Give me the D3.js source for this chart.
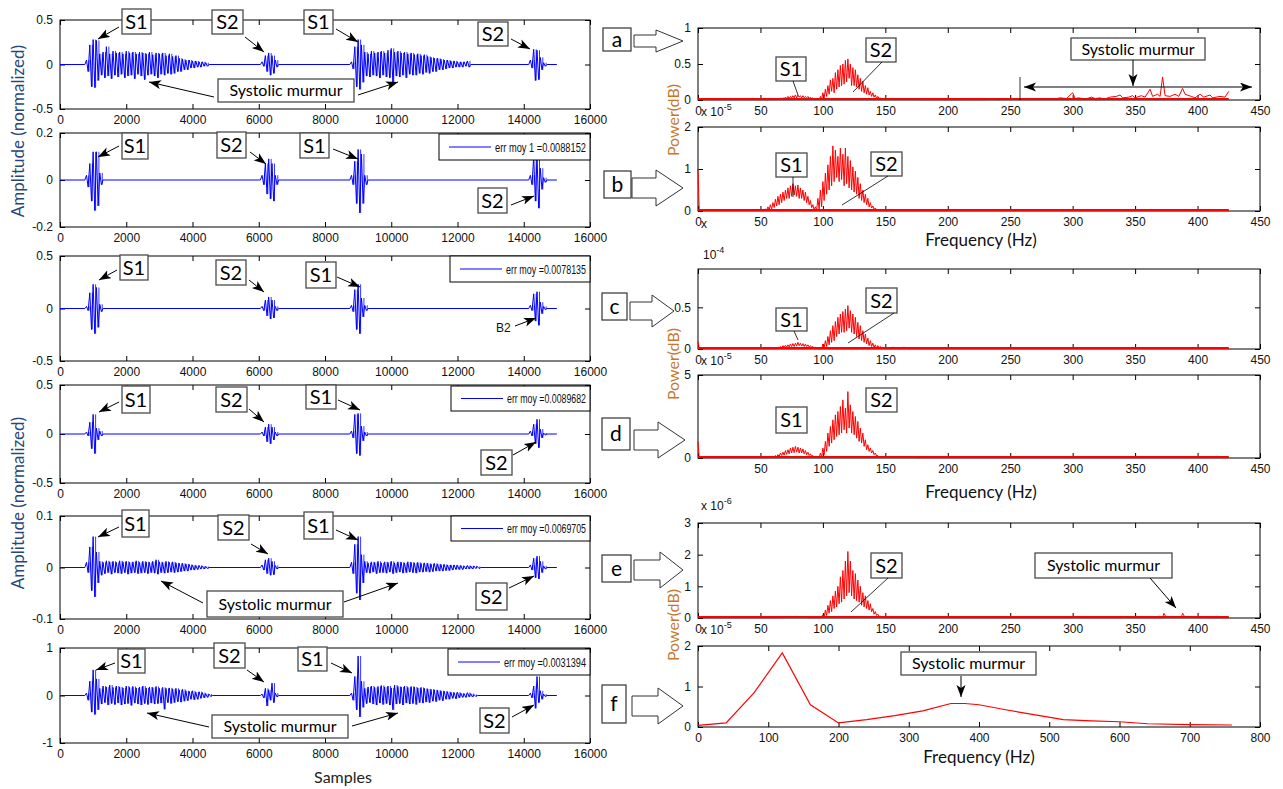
<!DOCTYPE html>
<html>
<head>
<meta charset="utf-8">
<script src="https://cdn.jsdelivr.net/npm/d3@7"></script>
<style>
  body { margin: 0; background: #fff; }
  svg text { font-family: "Liberation Sans", Arial, sans-serif; }
  .callout { font-family: Lato, "Open Sans", sans-serif; }
</style>
</head>
<body>
<svg id="fig" width="1283" height="789"></svg>
<script>
/* global d3 */

// ---------- data: time signals (envelope peaks, [upper, lower] every SIG_STEP samples) ----------
const SIG_STEP = 100;
const SIG_END = 15000;
const sampleTicks = [0, 2000, 4000, 6000, 8000, 10000, 12000, 14000, 16000];

const sigA = [
  [800, [[0.05,-0.08],[0.22,-0.25],[0.28,-0.26],[0.27,-0.18],[0.12,-0.12],[0.14,-0.15],[0.2,-0.13],[0.12,-0.16],[0.15,-0.12],[0.13,-0.14],[0.14,-0.11],[0.12,-0.15],[0.15,-0.13],[0.13,-0.12],[0.14,-0.16],[0.12,-0.11],[0.14,-0.13],[0.13,-0.17],[0.12,-0.12],[0.14,-0.11],[0.11,-0.13],[0.13,-0.15],[0.12,-0.11],[0.13,-0.12],[0.1,-0.1],[0.12,-0.11],[0.09,-0.1],[0.1,-0.08],[0.07,-0.08],[0.06,-0.06],[0.05,-0.06],[0.05,-0.04],[0.04,-0.04],[0.04,-0.03],[0.03,-0.03],[0.03,-0.02],[0.02,-0.02]]],
  [6100, [[0.03,-0.02],[0.1,-0.08],[0.13,-0.12],[0.1,-0.1],[0.05,-0.03]]],
  [8800, [[0.03,-0.05],[0.2,-0.25],[0.28,-0.28],[0.22,-0.2],[0.14,-0.13],[0.12,-0.14],[0.15,-0.12],[0.13,-0.13],[0.14,-0.15],[0.15,-0.12],[0.13,-0.14],[0.16,-0.15],[0.18,-0.2],[0.14,-0.13],[0.15,-0.14],[0.13,-0.12],[0.14,-0.15],[0.12,-0.11],[0.13,-0.12],[0.11,-0.12],[0.12,-0.1],[0.1,-0.11],[0.11,-0.09],[0.09,-0.1],[0.08,-0.08],[0.07,-0.08],[0.07,-0.06],[0.06,-0.06],[0.05,-0.05],[0.05,-0.04],[0.04,-0.04],[0.04,-0.03],[0.03,-0.03],[0.03,-0.03],[0.03,-0.02],[0.04,-0.03]]],
  [14200, [[0.05,-0.04],[0.17,-0.18],[0.16,-0.17],[0.08,-0.06],[0.02,-0.02]]],
];

const sigB = [
  [800, [[0.02,-0.03],[0.07,-0.09],[0.12,-0.13],[0.12,-0.11],[0.03,-0.02]]],
  [6100, [[0.02,-0.02],[0.07,-0.06],[0.09,-0.08],[0.07,-0.09],[0.02,-0.02]]],
  [8800, [[0.02,-0.02],[0.08,-0.1],[0.13,-0.14],[0.11,-0.1],[0.02,-0.02]]],
  [14200, [[0.02,-0.02],[0.1,-0.09],[0.1,-0.12],[0.05,-0.04],[0.01,-0.01]]],
];

const sigC = [
  [800, [[0.02,-0.02],[0.15,-0.2],[0.23,-0.24],[0.2,-0.18],[0.04,-0.03]]],
  [6100, [[0.02,-0.02],[0.08,-0.07],[0.11,-0.1],[0.08,-0.09],[0.02,-0.02]]],
  [8800, [[0.03,-0.03],[0.18,-0.2],[0.23,-0.24],[0.1,-0.08],[0.03,-0.02]]],
  [14200, [[0.03,-0.02],[0.14,-0.12],[0.16,-0.16],[0.06,-0.05],[0.02,-0.01]]],
];

const sigD = [
  [800, [[0.02,-0.02],[0.12,-0.15],[0.2,-0.2],[0.06,-0.06],[0.03,-0.02]]],
  [6100, [[0.02,-0.02],[0.07,-0.08],[0.1,-0.1],[0.07,-0.06],[0.02,-0.02]]],
  [8800, [[0.03,-0.04],[0.2,-0.2],[0.21,-0.22],[0.08,-0.07],[0.02,-0.02]]],
  [14200, [[0.03,-0.02],[0.1,-0.1],[0.15,-0.14],[0.05,-0.04],[0.01,-0.01]]],
];

const sigE = [
  [800, [[0.01,-0.01],[0.04,-0.045],[0.06,-0.057],[0.03,-0.03],[0.012,-0.015],[0.01,-0.012],[0.013,-0.01],[0.011,-0.013],[0.012,-0.01],[0.01,-0.011],[0.013,-0.012],[0.011,-0.01],[0.012,-0.013],[0.01,-0.011],[0.011,-0.01],[0.013,-0.012],[0.01,-0.011],[0.012,-0.01],[0.011,-0.012],[0.01,-0.01],[0.012,-0.011],[0.015,-0.013],[0.011,-0.01],[0.01,-0.011],[0.012,-0.01],[0.01,-0.009],[0.011,-0.01],[0.009,-0.009],[0.008,-0.008],[0.008,-0.007],[0.007,-0.007],[0.006,-0.005],[0.005,-0.005],[0.004,-0.004],[0.004,-0.003],[0.003,-0.003],[0.002,-0.002]]],
  [6100, [[0.005,-0.005],[0.015,-0.012],[0.018,-0.015],[0.012,-0.014],[0.004,-0.003]]],
  [8800, [[0.01,-0.012],[0.045,-0.05],[0.06,-0.063],[0.025,-0.03],[0.012,-0.01],[0.009,-0.011],[0.011,-0.009],[0.01,-0.012],[0.012,-0.01],[0.009,-0.01],[0.011,-0.011],[0.01,-0.009],[0.012,-0.012],[0.009,-0.01],[0.011,-0.009],[0.01,-0.011],[0.009,-0.01],[0.011,-0.009],[0.01,-0.01],[0.009,-0.011],[0.01,-0.009],[0.008,-0.009],[0.009,-0.008],[0.008,-0.009],[0.007,-0.008],[0.008,-0.007],[0.007,-0.007],[0.006,-0.007],[0.006,-0.006],[0.005,-0.006],[0.005,-0.005],[0.005,-0.004],[0.004,-0.004],[0.004,-0.004],[0.003,-0.003],[0.004,-0.003],[0.003,-0.003],[0.003,-0.002],[0.002,-0.002]]],
  [14200, [[0.005,-0.005],[0.018,-0.02],[0.022,-0.022],[0.012,-0.01],[0.003,-0.003]]],
];

const sigF = [
  [800, [[0.05,-0.1],[0.3,-0.35],[0.54,-0.4],[0.35,-0.3],[0.15,-0.18],[0.2,-0.15],[0.18,-0.2],[0.22,-0.17],[0.17,-0.19],[0.2,-0.16],[0.18,-0.2],[0.16,-0.18],[0.2,-0.17],[0.17,-0.21],[0.19,-0.16],[0.16,-0.18],[0.18,-0.2],[0.2,-0.17],[0.16,-0.19],[0.18,-0.16],[0.17,-0.18],[0.19,-0.17],[0.15,-0.16],[0.17,-0.29],[0.15,-0.15],[0.16,-0.17],[0.14,-0.15],[0.15,-0.13],[0.12,-0.14],[0.13,-0.12],[0.1,-0.11],[0.09,-0.08],[0.1,-0.09],[0.07,-0.08],[0.08,-0.06],[0.06,-0.05],[0.04,-0.04],[0.03,-0.02]]],
  [6100, [[0.03,-0.05],[0.15,-0.22],[0.12,-0.1],[0.26,-0.15],[0.05,-0.03]]],
  [8800, [[0.05,-0.1],[0.4,-0.3],[0.83,-0.45],[0.3,-0.25],[0.15,-0.17],[0.18,-0.15],[0.2,-0.18],[0.17,-0.2],[0.19,-0.16],[0.21,-0.19],[0.18,-0.17],[0.2,-0.2],[0.16,-0.3],[0.22,-0.18],[0.19,-0.17],[0.18,-0.2],[0.2,-0.16],[0.17,-0.18],[0.19,-0.17],[0.18,-0.19],[0.16,-0.15],[0.17,-0.16],[0.15,-0.14],[0.14,-0.15],[0.13,-0.12],[0.12,-0.13],[0.11,-0.1],[0.1,-0.11],[0.09,-0.08],[0.08,-0.08],[0.07,-0.06],[0.06,-0.07],[0.07,-0.05],[0.05,-0.04],[0.04,-0.04],[0.06,-0.03],[0.04,-0.03],[0.02,-0.02]]],
  [14200, [[0.05,-0.05],[0.2,-0.27],[0.4,-0.15],[0.1,-0.08],[0.03,-0.02]]],
];

const errMoy = [null, 'err moy 1 =0.0088152', 'err moy =0.0078135', 'err moy =0.0089682', 'err moy =0.0069705', 'err moy =0.0031394'];

// ---------- data: spectra (bumps are [hi, lo] every SPEC_STEP Hz, plus single points) ----------
const SPEC_STEP = 2;
const SPEC_END = 425;
const freqTicks = [0, 50, 100, 150, 200, 250, 300, 350, 400, 450];
const freqTicksF = [0, 100, 200, 300, 400, 500, 600, 700, 800];

const specA_pts = [[0,0.03],[2,0.005],[58,0.005],[150,0.02],[152,0.01],[160,0.015],[170,0.01],[180,0.005],[230,0.005],[235,0.01],[240,0.005],[248,0.01],[250,0.005],[255,0.02],[258,0.005],[270,0.01],[275,0.02],[280,0.005],[285,0.01],[290,0.03],[295,0.02],[300,0.1],[302,0.02],[305,0.03],[310,0.01],[315,0.04],[318,0.02],[322,0.03],[325,0.01],[330,0.04],[335,0.05],[338,0.07],[340,0.03],[345,0.04],[348,0.06],[350,0.03],[355,0.06],[358,0.04],[362,0.15],[364,0.05],[368,0.08],[370,0.05],[372,0.32],[374,0.06],[378,0.05],[382,0.08],[385,0.05],[388,0.16],[390,0.08],[395,0.05],[398,0.03],[402,0.08],[405,0.04],[410,0.07],[412,0.03],[418,0.05],[422,0.04],[425,0.12]];
const specA_bumps = [
  [60, [[0.01,0],[0.02,0.01],[0.02,0.01],[0.03,0.01],[0.03,0.02],[0.04,0.02],[0.05,0.02],[0.05,0.03],[0.06,0.03],[0.07,0.03],[0.07,0.04],[0.06,0.03],[0.06,0.03],[0.05,0.03],[0.05,0.02],[0.04,0.02],[0.03,0.01],[0.02,0.01],[0.02,0]]],
  [98, [[0.05,0.01],[0.1,0.03],[0.15,0.05],[0.2,0.08],[0.28,0.12],[0.3,0.1],[0.38,0.15],[0.42,0.18],[0.48,0.2],[0.5,0.22],[0.55,0.25],[0.57,0.3],[0.5,0.2],[0.45,0.2],[0.42,0.18],[0.35,0.15],[0.3,0.12],[0.26,0.1],[0.2,0.08],[0.17,0.07],[0.12,0.05],[0.1,0.04],[0.07,0.02],[0.05,0.02],[0.03,0.01],[0.02,0.01]]],
];

const specB_pts = [[0,1.0],[1,0.02],[52,0.01],[148,0.01],[425,0.01]];
const specB_bumps = [
  [54, [[0.05,0.01],[0.1,0.03],[0.15,0.05],[0.2,0.08],[0.28,0.12],[0.35,0.15],[0.4,0.2],[0.45,0.25],[0.5,0.3],[0.55,0.3],[0.6,0.35],[0.65,0.38],[0.6,0.35],[0.62,0.3],[0.55,0.3],[0.5,0.25],[0.45,0.2],[0.35,0.15],[0.25,0.08],[0.15,0.02]]],
  [94, [[0.1,0.02],[0.3,0.05],[0.5,0.1],[0.7,0.25],[0.9,0.4],[1.1,0.5],[1.3,0.6],[1.55,0.7],[1.45,0.8],[1.3,0.7],[1.5,0.75],[1.35,0.6],[1.5,0.65],[1.3,0.55],[1.2,0.5],[1.05,0.45],[0.95,0.4],[0.8,0.3],[0.65,0.25],[0.5,0.2],[0.4,0.15],[0.3,0.1],[0.2,0.07],[0.12,0.04],[0.07,0.02],[0.03,0.01]]],
];

const specC_pts = [[0,0.09],[1,0.005],[58,0.005],[152,0.015],[156,0.02],[160,0.015],[165,0.02],[170,0.01],[172,0.005],[425,0.005]];
const specC_bumps = [
  [60, [[0.01,0],[0.02,0.01],[0.025,0.01],[0.03,0.015],[0.04,0.02],[0.045,0.02],[0.05,0.025],[0.06,0.03],[0.065,0.03],[0.07,0.035],[0.08,0.04],[0.07,0.035],[0.065,0.03],[0.06,0.03],[0.05,0.025],[0.04,0.02],[0.03,0.01],[0.02,0.01],[0.01,0]]],
  [98, [[0.02,0],[0.06,0.01],[0.1,0.03],[0.15,0.05],[0.22,0.08],[0.28,0.1],[0.33,0.15],[0.38,0.18],[0.42,0.2],[0.45,0.2],[0.48,0.22],[0.52,0.25],[0.46,0.2],[0.42,0.18],[0.38,0.15],[0.32,0.12],[0.28,0.1],[0.22,0.08],[0.18,0.06],[0.13,0.04],[0.1,0.03],[0.07,0.02],[0.05,0.01],[0.04,0.01],[0.03,0.01],[0.02,0.005],[0.02,0.005]]],
];

const specD_pts = [[0,1.0],[1,0.02],[56,0.02],[152,0.05],[160,0.08],[165,0.05],[170,0.06],[175,0.02],[425,0.02]];
const specD_bumps = [
  [58, [[0.05,0.02],[0.1,0.04],[0.15,0.06],[0.2,0.1],[0.3,0.15],[0.35,0.18],[0.45,0.22],[0.5,0.25],[0.6,0.3],[0.65,0.32],[0.7,0.35],[0.65,0.3],[0.6,0.3],[0.55,0.25],[0.45,0.2],[0.35,0.15],[0.25,0.1],[0.15,0.05],[0.1,0.03],[0.05,0.01]]],
  [98, [[0.3,0.05],[0.6,0.2],[1.0,0.4],[1.5,0.7],[1.9,0.9],[2.3,1.1],[2.6,1.3],[2.8,1.4],[3.1,1.5],[3.5,1.7],[3.0,1.5],[4.0,1.8],[3.2,1.5],[2.8,1.4],[2.5,1.2],[2.2,1.0],[1.8,0.9],[1.5,0.7],[1.1,0.5],[0.8,0.4],[0.6,0.3],[0.45,0.2],[0.3,0.12],[0.15,0.06],[0.08,0.03],[0.04,0.02]]],
];

const specE_pts = [[0,0.03],[2,0.01],[68,0.01],[70,0.04],[72,0.01],[74,0.05],[76,0.01],[78,0.05],[80,0.01],[82,0.04],[84,0.01],[86,0.03],[88,0.01],[98,0.01],[152,0.01],[300,0.01],[302,0.03],[304,0.01],[340,0.01],[342,0.03],[344,0.01],[372,0.01],[373,0.15],[375,0.02],[380,0.05],[382,0.01],[387,0.02],[388,0.15],[390,0.02],[404,0.01],[405,0.04],[407,0.01],[425,0.01]];
const specE_bumps = [
  [100, [[0.1,0.02],[0.25,0.08],[0.4,0.15],[0.55,0.2],[0.7,0.3],[0.85,0.35],[1.0,0.45],[1.3,0.5],[1.5,0.6],[1.8,0.7],[2.1,0.8],[1.8,0.7],[1.5,0.6],[1.4,0.55],[1.2,0.5],[1.0,0.4],[0.8,0.35],[0.7,0.3],[0.55,0.25],[0.45,0.2],[0.3,0.12],[0.2,0.08],[0.12,0.05],[0.06,0.02],[0.03,0.01]]],
];

const specF = [[0,0.04],[40,0.1],[80,0.85],[120,1.83],[160,0.55],[200,0.1],[240,0.18],[280,0.28],[320,0.4],[360,0.58],[380,0.58],[400,0.55],[440,0.42],[480,0.3],[520,0.18],[560,0.15],[600,0.13],[640,0.08],[700,0.06],[760,0.05]];

// ---------- layout ----------
const LX = [60, 590];
const RX = [698, 1260];

const leftPanels = [
  { sig: sigA, yDom: [-0.5, 0.5], yTicks: [-0.5, 0, 0.5], top: 20, bottom: 109 },
  { sig: sigB, yDom: [-0.2, 0.2], yTicks: [-0.2, 0, 0.2], top: 133, bottom: 227, legend: [439, 134, 151, 26] },
  { sig: sigC, yDom: [-0.5, 0.5], yTicks: [-0.5, 0, 0.5], top: 256, bottom: 361, legend: [450, 256, 140, 26] },
  { sig: sigD, yDom: [-0.5, 0.5], yTicks: [-0.5, 0, 0.5], top: 385, bottom: 483, legend: [451, 386, 139, 25] },
  { sig: sigE, yDom: [-0.1, 0.1], yTicks: [-0.1, 0, 0.1], top: 516, bottom: 619, legend: [451, 516, 139, 25] },
  { sig: sigF, yDom: [-1, 1], yTicks: [-1, 0, 1], top: 648, bottom: 743, legend: [448, 649, 142, 26] },
];

const rightPanels = [
  { pts: specA_pts, bumps: specA_bumps, yDom: [0, 1], yTicks: [0, 0.5, 1], top: 28, bottom: 100 },
  { pts: specB_pts, bumps: specB_bumps, yDom: [0, 2], yTicks: [0, 1, 2], top: 127, bottom: 211 },
  { pts: specC_pts, bumps: specC_bumps, yDom: [0, 0.96], yTicks: [0, 0.5], top: 269, bottom: 349 },
  { pts: specD_pts, bumps: specD_bumps, yDom: [0, 5], yTicks: [0, 5], top: 375, bottom: 458, noZero: true },
  { pts: specE_pts, bumps: specE_bumps, yDom: [0, 3], yTicks: [0, 1, 2, 3], top: 523, bottom: 618 },
  { line: specF, xDom: [0, 800], xTicks: freqTicksF, yDom: [0, 2], yTicks: [0, 1, 2], top: 646, bottom: 727 },
];

const svg = d3.select('#fig');

// arrowhead marker
const defs = svg.append('defs');
defs.append('marker')
  .attr('id', 'ah')
  .attr('markerUnits', 'userSpaceOnUse')
  .attr('markerWidth', 14).attr('markerHeight', 10)
  .attr('refX', 12).attr('refY', 4.5)
  .attr('orient', 'auto-start-reverse')
  .append('path').attr('d', 'M0,0 L12,4.5 L0,9 L3,4.5 Z').attr('fill', '#000');

const fmt = d => String(d);

const styleAxis = g => {
  g.select('.domain').remove();
  g.selectAll('text').attr('font-size', 12).attr('font-family', '"Liberation Sans", Arial, sans-serif').attr('fill', '#111');
  g.selectAll('line').attr('stroke', '#000');
};

const drawFrame = (x, y, top, bottom, xTicks, yTicks, xLabelTicks) => {
  const g = svg.append('g');
  const [x0, x1] = x.range();
  g.append('g').attr('transform', `translate(0,${bottom})`)
    .call(d3.axisBottom(x).tickValues(xTicks).tickSize(-5).tickPadding(6)
      .tickFormat(d => (xLabelTicks.includes(d) ? fmt(d) : '')))
    .call(styleAxis);
  g.append('g').attr('transform', `translate(0,${top})`)
    .call(d3.axisTop(x).tickValues(xTicks).tickSize(-5).tickFormat(''))
    .call(styleAxis);
  g.append('g').attr('transform', `translate(${x0},0)`)
    .call(d3.axisLeft(y).tickValues(yTicks).tickSize(-5).tickPadding(7).tickFormat(fmt))
    .call(styleAxis);
  g.append('g').attr('transform', `translate(${x1},0)`)
    .call(d3.axisRight(y).tickValues(yTicks).tickSize(-5).tickFormat(''))
    .call(styleAxis);
  g.append('rect')
    .attr('x', x0).attr('y', top)
    .attr('width', x1 - x0).attr('height', bottom - top)
    .attr('fill', 'none').attr('stroke', '#000').attr('stroke-width', 1);
  return g;
};

// signal bursts -> zigzag points
const signalPoints = bursts => {
  const pts = [[0, 0]];
  bursts.forEach(([start, pairs]) => {
    pts.push([start - SIG_STEP / 2, 0]);
    pairs.forEach(([up, lo], i) => {
      pts.push([start + i * SIG_STEP, up]);
      pts.push([start + i * SIG_STEP + SIG_STEP / 2, lo]);
    });
    pts.push([start + pairs.length * SIG_STEP, 0]);
  });
  pts.push([SIG_END, 0]);
  return pts;
};

// one stem per envelope pair, drawn between the zigzag strokes
const signalStems = bursts => bursts.flatMap(([start, pairs]) =>
  pairs.map(([up, lo], i) => [start + i * SIG_STEP + SIG_STEP * 0.75, up, lo]));

const spectrumPoints = (single, bumps) => {
  const pts = single.slice();
  bumps.forEach(([start, pairs]) => {
    pairs.forEach(([hi, lo], i) => {
      pts.push([start + i * SPEC_STEP, hi]);
      pts.push([start + i * SPEC_STEP + SPEC_STEP / 2, lo]);
    });
  });
  return pts.sort((a, b) => a[0] - b[0]);
};

// ---------- left panels ----------
leftPanels.forEach((p, i) => {
  const x = d3.scaleLinear().domain([0, 16000]).range(LX);
  const y = d3.scaleLinear().domain(p.yDom).range([p.bottom, p.top]);
  const g = drawFrame(x, y, p.top, p.bottom, sampleTicks, p.yTicks, sampleTicks);

  const line = d3.line().x(d => x(d[0])).y(d => y(d[1]));
  g.append('path')
    .attr('d', line(signalPoints(p.sig)))
    .attr('fill', 'none')
    .attr('stroke', '#0000ff')
    .attr('stroke-width', 1);

  g.append('g').selectAll('line')
    .data(signalStems(p.sig))
    .join('line')
    .attr('x1', d => x(d[0])).attr('x2', d => x(d[0]))
    .attr('y1', d => y(d[1])).attr('y2', d => y(d[2]))
    .attr('stroke', '#0000ff')
    .attr('stroke-width', 0.8);

  if (p.legend) {
    const [lx, ly, lw, lh] = p.legend;
    g.append('rect').attr('x', lx).attr('y', ly).attr('width', lw).attr('height', lh)
      .attr('fill', '#fff').attr('stroke', '#000');
    g.append('line').attr('x1', lx + 10).attr('x2', lx + 52)
      .attr('y1', ly + lh / 2).attr('y2', ly + lh / 2)
      .attr('stroke', '#0000ff');
    g.append('text').attr('x', lx + 56).attr('y', ly + lh / 2 + 4.5)
      .attr('font-size', 13)
      .attr('font-family', '"Liberation Sans Narrow", "Liberation Sans", Arial, sans-serif')
      .attr('fill', '#111')
      .attr('textLength', lx + lw - 4 - (lx + 56))
      .attr('lengthAdjust', 'spacingAndGlyphs')
      .text(errMoy[i]);
  }
});

// ---------- right panels ----------
rightPanels.forEach(p => {
  const xDom = p.xDom || [0, 450];
  const xTicks = p.xTicks || freqTicks;
  const x = d3.scaleLinear().domain(xDom).range(RX);
  const y = d3.scaleLinear().domain(p.yDom).range([p.bottom, p.top]);
  const labelTicks = p.noZero ? xTicks.filter(t => t !== 0) : xTicks;
  const g = drawFrame(x, y, p.top, p.bottom, xTicks, p.yTicks, labelTicks);

  const line = d3.line().x(d => x(d[0])).y(d => y(d[1]));
  if (p.line) {
    g.append('path').attr('d', line(p.line))
      .attr('fill', 'none').attr('stroke', '#ff0000').attr('stroke-width', 1.2);
  } else {
    g.append('path').attr('d', line([[0, 0], [SPEC_END, 0]]))
      .attr('transform', 'translate(0,-1)')
      .attr('fill', 'none').attr('stroke', '#ff0000').attr('stroke-width', 2);
    g.append('path').attr('d', line(spectrumPoints(p.pts, p.bumps)))
      .attr('fill', 'none').attr('stroke', '#ff0000').attr('stroke-width', 1);
  }
});

// exponent labels (matlab style)
const expLabels = [
  { x: 701, y: 116, base: 'x 10', exp: '-5' },
  { x: 701, y: 228, base: 'x', exp: '' },
  { x: 703, y: 259, base: '10', exp: '-4' },
  { x: 701, y: 365, base: 'x 10', exp: '-5' },
  { x: 701, y: 510, base: 'x 10', exp: '-6' },
  { x: 701, y: 634, base: 'x 10', exp: '-5' },
];
expLabels.forEach(e => {
  const t = svg.append('text').attr('x', e.x).attr('y', e.y).attr('font-size', 12).attr('fill', '#111');
  t.append('tspan').text(e.base);
  if (e.exp) t.append('tspan').attr('dy', -6).attr('font-size', 9).text(e.exp);
});

// ---------- axis titles ----------
const title = (text, x, y, size, color, rotate) => {
  svg.append('text')
    .attr('class', 'callout')
    .attr('transform', `translate(${x},${y})${rotate ? ' rotate(-90)' : ''}`)
    .attr('text-anchor', 'middle')
    .attr('font-size', size)
    .attr('fill', color)
    .text(text);
};
title('Amplitude (normalized)', 24, 131, 17, '#27477a', true);
title('Amplitude (normalized)', 24, 503, 17, '#27477a', true);
title('Power(dB)', 679, 120, 16, '#c8782d', true);
title('Power(dB)', 679, 364, 16, '#c8782d', true);
title('Power(dB)', 679, 625, 16, '#c8782d', true);
title('Frequency (Hz)', 981, 246, 17, '#111', false);
title('Frequency (Hz)', 981, 498, 17, '#111', false);
title('Frequency (Hz)', 979, 763, 17, '#111', false);
title('Samples', 343, 783, 16, '#222', false);

// ---------- callout boxes ----------
const boxes = [
  // left a
  ['S1', 122, 9, 29, 25], ['S2', 212, 10, 31, 24], ['S1', 304, 10, 29, 24], ['S2', 478, 22, 30, 24], ['Systolic murmur', 218, 79, 136, 23],
  // left b
  ['S1', 122, 133, 26, 26], ['S2', 217, 132, 29, 26], ['S1', 300, 133, 29, 25], ['S2', 478, 188, 29, 25],
  // left c
  ['S1', 120, 255, 28, 25], ['S2', 216, 260, 30, 25], ['S1', 306, 262, 30, 26],
  // left d
  ['S1', 122, 386, 28, 27], ['S2', 216, 387, 31, 25], ['S1', 306, 385, 30, 24], ['S2', 481, 450, 31, 25],
  // left e
  ['S1', 122, 510, 27, 27], ['S2', 218, 515, 31, 25], ['S1', 304, 512, 29, 27], ['S2', 476, 583, 31, 27], ['Systolic murmur', 207, 591, 136, 26],
  // left f
  ['S1', 118, 649, 27, 24], ['S2', 214, 643, 31, 25], ['S1', 298, 647, 29, 24], ['S2', 480, 708, 29, 25], ['Systolic murmur', 212, 715, 136, 23],
  // right a
  ['S1', 776, 57, 30, 24], ['S2', 866, 38, 30, 24], ['Systolic murmur', 1071, 38, 134, 22],
  // right b
  ['S1', 776, 153, 31, 24], ['S2', 871, 152, 31, 24],
  // right c
  ['S1', 776, 308, 31, 23], ['S2', 866, 288, 31, 25],
  // right d
  ['S1', 776, 407, 31, 26], ['S2', 866, 388, 31, 24],
  // right e
  ['S2', 871, 553, 31, 25], ['Systolic murmur', 1035, 553, 137, 25],
  // right f
  ['Systolic murmur', 901, 652, 135, 23],
];

boxes.forEach(([label, bx, by, bw, bh]) => {
  const big = label.length <= 2;
  svg.append('rect').attr('x', bx).attr('y', by).attr('width', bw).attr('height', bh)
    .attr('fill', '#fff').attr('stroke', '#4a4a4a').attr('stroke-width', 1.3);
  svg.append('text').attr('class', 'callout')
    .attr('x', bx + bw / 2).attr('y', by + bh / 2 + (big ? 7 : 5.5))
    .attr('text-anchor', 'middle')
    .attr('font-size', big ? 20 : 16)
    .attr('fill', '#000')
    .text(label);
});

// arrows with heads: [x1, y1, x2, y2]
const arrows = [
  [119,27,98,39],[245,37,264,52],[336,29,358,42],[511,39,530,49],[214,97,149,82],[358,95,398,82],
  [119,146,98,157],[250,152,266,164],[333,149,358,159],[511,205,534,196],
  [117,270,99,280],[249,280,264,292],[337,277,360,287],[515,326,536,318],
  [119,402,99,412],[249,409,264,422],[338,400,360,410],[513,455,536,442],
  [119,527,98,537],[251,544,268,554],[336,530,358,540],[509,588,534,576],[203,603,161,581],[344,602,398,583],
  [115,663,96,670],[247,670,264,682],[331,663,352,673],[512,717,534,705],[209,727,147,713],[352,726,398,713],
  [1133,60,1133,86],[1150,578,1176,608],[961,676,961,697],
];
arrows.forEach(([x1, y1, x2, y2]) => {
  svg.append('line').attr('x1', x1).attr('y1', y1).attr('x2', x2).attr('y2', y2)
    .attr('stroke', '#000').attr('stroke-width', 1)
    .attr('marker-end', 'url(#ah)');
});

// plain leader lines (no heads)
const leaders = [
  [793,81,798,95],[882,62,853,92],
  [793,177,793,197],[888,176,842,205],
  [794,331,798,340],[894,313,848,343],
  [888,578,851,612],
  [1020,77,1020,100],
];
leaders.forEach(([x1, y1, x2, y2]) => {
  svg.append('line').attr('x1', x1).attr('y1', y1).attr('x2', x2).attr('y2', y2)
    .attr('stroke', '#000').attr('stroke-width', 0.8);
});

// double-headed arrow over the murmur band (right a)
svg.append('line').attr('x1', 1024).attr('y1', 87).attr('x2', 1252).attr('y2', 87)
  .attr('stroke', '#000').attr('stroke-width', 1.2)
  .attr('marker-start', 'url(#ah)').attr('marker-end', 'url(#ah)');

// "B2" note on panel c
svg.append('text').attr('x', 496).attr('y', 332).attr('font-size', 12).attr('fill', '#111').text('B2');

// ---------- panel letters with hollow arrows ----------
const bigArrows = [
  { label: 'a', box: [603, 28, 28, 23], x0: 634, xh: 656, x1: 683, cy: 41, sh: 6, hh: 11 },
  { label: 'b', box: [604, 171, 27, 27], x0: 632, xh: 656, x1: 683, cy: 188, sh: 10, hh: 18 },
  { label: 'c', box: [602, 293, 25, 27], x0: 630, xh: 652, x1: 674, cy: 311, sh: 9, hh: 16 },
  { label: 'd', box: [602, 418, 28, 32], x0: 634, xh: 658, x1: 685, cy: 440, sh: 10, hh: 18 },
  { label: 'e', box: [602, 555, 29, 27], x0: 634, xh: 660, x1: 683, cy: 570, sh: 10, hh: 18 },
  { label: 'f', box: [602, 685, 24, 38], x0: 632, xh: 658, x1: 683, cy: 706, sh: 10, hh: 18 },
];
const poly = d3.line();
bigArrows.forEach(a => {
  const [bx, by, bw, bh] = a.box;
  svg.append('rect').attr('x', bx).attr('y', by).attr('width', bw).attr('height', bh)
    .attr('fill', '#fff').attr('stroke', '#333').attr('stroke-width', 1.2);
  svg.append('text').attr('class', 'callout')
    .attr('x', bx + bw / 2).attr('y', by + bh / 2 + 7)
    .attr('text-anchor', 'middle').attr('font-size', 21).attr('fill', '#000')
    .text(a.label);
  const pts = [
    [a.x0, a.cy - a.sh], [a.xh, a.cy - a.sh], [a.xh, a.cy - a.hh], [a.x1, a.cy],
    [a.xh, a.cy + a.hh], [a.xh, a.cy + a.sh], [a.x0, a.cy + a.sh],
  ];
  svg.append('path').attr('d', poly(pts) + 'Z')
    .attr('fill', '#fff').attr('stroke', '#333').attr('stroke-width', 1);
});
</script>
</body>
</html>
